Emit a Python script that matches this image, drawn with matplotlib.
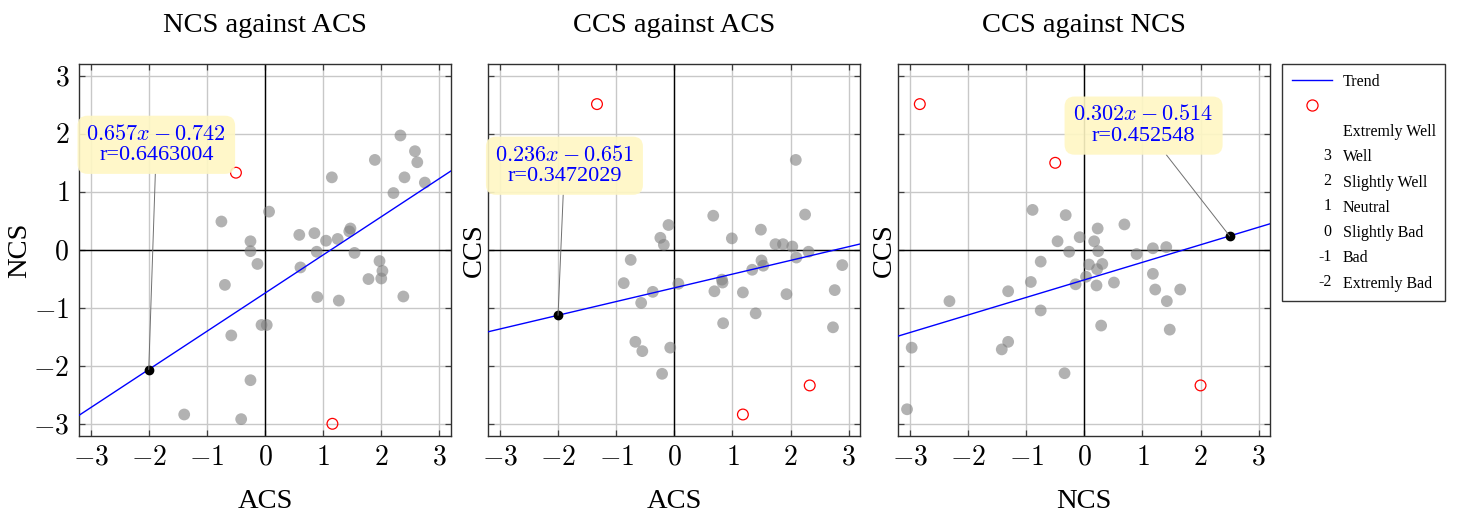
import numpy as np
import matplotlib
matplotlib.use("Agg")
import matplotlib.pyplot as plt
from matplotlib.lines import Line2D
from matplotlib.text import Text
from matplotlib.legend_handler import HandlerBase
from matplotlib.ticker import FuncFormatter

plt.rcParams['font.family'] = ['Liberation Serif', 'DejaVu Serif']
plt.rcParams['mathtext.fontset'] = 'cm'

# survey scores per respondent (gray) and flagged outliers (red)
acs_1 = [2.33, 2.58, 2.62, 1.89, 1.15, 2.40, 2.75, 2.21, 0.07, -0.75, 0.59, 0.85,
         1.05, 1.25, 1.45, 1.47, -0.25, -0.25, 0.89, 1.54, -0.13, 0.61, 1.97, 2.02,
         2.00, 1.78, -0.69, 2.38, 0.90, 1.27, -0.06, 0.03, -0.58, -0.25, -1.39, -0.41]
ncs_1 = [1.97, 1.70, 1.51, 1.55, 1.25, 1.25, 1.16, 0.98, 0.66, 0.49, 0.26, 0.29,
         0.16, 0.19, 0.32, 0.37, 0.15, -0.02, -0.03, -0.05, -0.24, -0.30, -0.19, -0.36,
         -0.49, -0.50, -0.60, -0.80, -0.81, -0.87, -1.29, -1.29, -1.47, -2.24, -2.83, -2.91]
out_acs_1 = [-0.50, 1.16]
out_ncs_1 = [1.33, -2.99]

acs_2 = [2.09, 0.67, 2.25, -0.10, -0.24, -0.18, 0.99, 1.49, 1.74, 1.87, 2.03, 2.31,
         2.10, 1.50, 1.53, 1.34, 2.89, -0.75, -0.87, 0.07, -0.37, -0.57, 0.82, 0.83,
         0.69, 1.18, 1.93, 2.76, 1.40, 0.84, 2.73, -0.67, -0.55, -0.07, -0.21]
ccs_2 = [1.55, 0.59, 0.61, 0.43, 0.21, 0.09, 0.20, 0.35, 0.10, 0.10, 0.06, -0.03,
         -0.13, -0.18, -0.27, -0.34, -0.26, -0.17, -0.57, -0.58, -0.72, -0.91, -0.51, -0.56,
         -0.71, -0.73, -0.76, -0.69, -1.09, -1.26, -1.33, -1.58, -1.74, -1.68, -2.13]
out_acs_2 = [-1.33, 2.33, 1.18]
out_ccs_2 = [2.51, -2.33, -2.83]

ncs_3 = [-0.89, -0.32, 0.23, 0.69, -0.08, -0.46, 0.17, 0.24, -0.26, 0.90, 1.18, 1.41,
         -0.75, 0.08, 0.31, 0.22, 0.03, -0.92, -0.15, 0.21, 0.51, 1.18, -1.31, 1.22,
         1.65, -2.32, 1.42, -0.75, 0.29, 1.47, -1.31, -1.42, -2.97, -0.34, -3.05]
ccs_3 = [0.69, 0.60, 0.37, 0.44, 0.22, 0.15, 0.15, -0.02, -0.03, -0.07, 0.03, 0.05,
         -0.20, -0.25, -0.24, -0.33, -0.46, -0.55, -0.59, -0.61, -0.56, -0.41, -0.71, -0.68,
         -0.68, -0.88, -0.88, -1.04, -1.30, -1.37, -1.58, -1.71, -1.68, -2.12, -2.74]
out_ncs_3 = [-2.83, -0.50, 2.00]
out_ccs_3 = [2.51, 1.50, -2.33]

titles = ["NCS against ACS", "CCS against ACS", "CCS against NCS"]
xlabels = ["ACS", "ACS", "NCS"]
ylabels = ["NCS", "CCS", "CCS"]
slopes = [0.657, 0.236, 0.302]
intercepts = [-0.742, -0.651, -0.514]
r_values = ["0.6463004", "0.3472029", "0.452548"]
mark_x = [-2, -2, 2.5]          # where the trend label points
label_pos = [(-1.87, 1.81), (-1.89, 1.45), (1.02, 2.14)]

legend_labels = ["Trend", "", "Extremly Well", "Well", "Slightly Well",
                 "Neutral", "Slightly Bad", "Bad", "Extremly Bad"]
legend_codes = ["", "", "", "3", "2", "1", "0", "-1", "-2"]

data = [(acs_1, ncs_1, out_acs_1, out_ncs_1),
        (acs_2, ccs_2, out_acs_2, out_ccs_2),
        (ncs_3, ccs_3, out_ncs_3, out_ccs_3)]


class CodeHandle:
    def __init__(self, code):
        self.code = code


class HandlerCode(HandlerBase):
    def create_artists(self, legend, orig_handle, xdescent, ydescent,
                       width, height, fontsize, trans):
        t = Text(width - xdescent, height / 2 - ydescent, orig_handle.code,
                 ha='right', va='center', fontsize=fontsize,
                 transform=trans)
        return [t]


fig = plt.figure(figsize=(14.59, 5.16), dpi=100)
lefts = [79, 488.3, 898.3]
W, H = 1459.0, 516.0
lim = (-3.2, 3.2)
xs = np.array(lim)

for i in range(3):
    ax = fig.add_axes([lefts[i] / W, 80 / H, 372 / W, 372 / H])
    x, y, ox, oy = data[i]
    ax.set_xlim(lim)
    ax.set_ylim(lim)
    ax.set_xticks(range(-3, 4))
    ax.set_yticks(range(-3, 4))
    ax.grid(True, color='#c8c8c8', lw=1.0, zorder=0)
    ax.set_axisbelow(True)
    ax.axhline(0, color='black', lw=1.0, zorder=1)
    ax.axvline(0, color='black', lw=1.0, zorder=1)

    ax.scatter(x, y, s=72, color='#808080', alpha=0.6, edgecolors='none', zorder=2)
    ax.scatter(ox, oy, s=60, facecolors='none', edgecolors='red', lw=0.9, zorder=3)
    ax.plot(xs, slopes[i] * xs + intercepts[i], color='blue', lw=1.0, zorder=4)

    px = mark_x[i]
    py = slopes[i] * px + intercepts[i]
    ax.plot([px], [py], 'o', color='black', ms=6, zorder=5)
    txt = "$%.3fx-%.3f$\nr=%s" % (slopes[i], -intercepts[i], r_values[i])
    ax.annotate(txt, xy=(px, py), xytext=label_pos[i], ha='center', va='center',
                color='blue', fontsize=16, linespacing=1.1, zorder=6,
                bbox=dict(boxstyle='round,pad=0.4,rounding_size=0.45',
                          fc='#fff7c4', ec='none', alpha=0.9),
                arrowprops=dict(arrowstyle='-', color='#707070', lw=0.7,
                                shrinkA=0, shrinkB=0))

    ax.tick_params(direction='in', length=4, width=0.9, color='#404040',
                   top=True, right=True, labelsize=20, pad=7)
    ax.xaxis.set_major_formatter(FuncFormatter(lambda v, p: r'$%d$' % int(round(v))))
    ax.yaxis.set_major_formatter(FuncFormatter(lambda v, p: r'$%d$' % int(round(v))))
    if i > 0:
        ax.tick_params(labelleft=False)
    for s in ax.spines.values():
        s.set_linewidth(1.0)
        s.set_color('#303030')
    ax.set_title(titles[i], fontsize=20.5, pad=23)
    ax.set_xlabel(xlabels[i], fontsize=20.5, labelpad=13)
    ax.set_ylabel(ylabels[i], fontsize=20.5, labelpad=1)

    if i == 2:
        handles = [Line2D([], [], color='blue', lw=1.0),
                   Line2D([], [], ls='none', marker='o', ms=8, mfc='none',
                          mec='red', mew=0.9)]
        handles += [CodeHandle(c) for c in legend_codes[2:]]
        fig.legend(handles, legend_labels, loc='upper left',
                   bbox_to_anchor=(1282 / W, 1 - 64 / H), fontsize=11.5,
                   frameon=True, fancybox=False, edgecolor='black',
                   borderaxespad=0, handlelength=2.5, handletextpad=0.7,
                   labelspacing=0.58, borderpad=0.6,
                   handler_map={CodeHandle: HandlerCode()})

fig.savefig("out.png", dpi=100)
